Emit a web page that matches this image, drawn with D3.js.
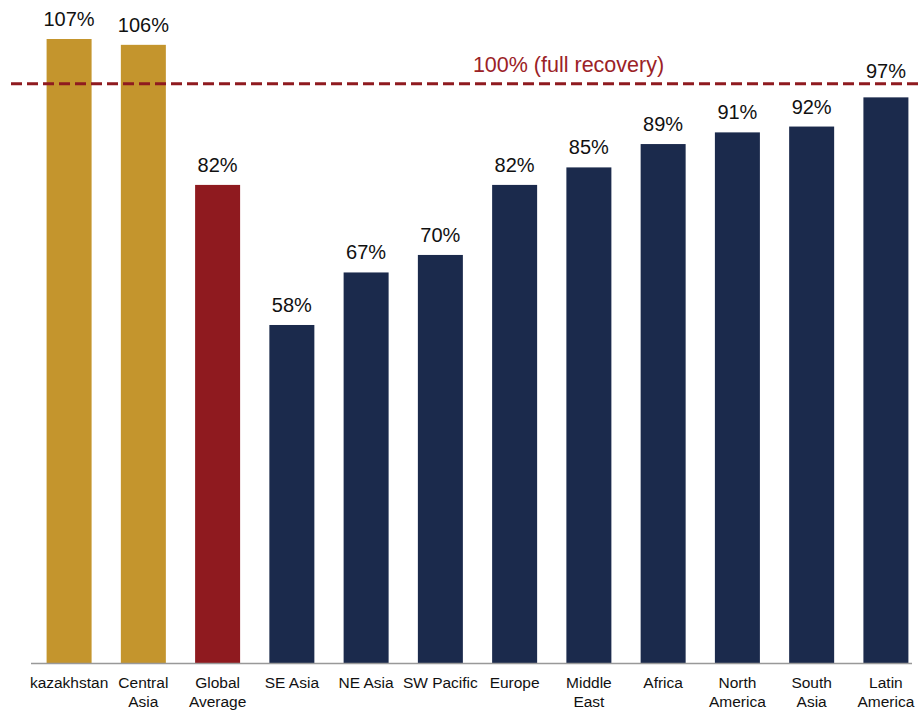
<!DOCTYPE html>
<html>
<head>
<meta charset="utf-8">
<script src="https://cdn.jsdelivr.net/npm/d3@7"></script>
<style>
  body { margin: 0; background: #fff; }
  text { font-family: "Liberation Sans", Arial, sans-serif; }
</style>
</head>
<body>
<script>
// datos
var regiones = ["kazakhstan", "Central Asia", "Global Average", "SE Asia", "NE Asia", "SW Pacific",
                "Europe", "Middle East", "Africa", "North America", "South Asia", "Latin America"];
// etiquetas del eje (en dos lineas cuando hace falta)
var etiquetas = [["kazakhstan"], ["Central", "Asia"], ["Global", "Average"], ["SE Asia"], ["NE Asia"], ["SW Pacific"],
                 ["Europe"], ["Middle", "East"], ["Africa"], ["North", "America"], ["South", "Asia"], ["Latin", "America"]];
var recuperacion = [107, 106, 82, 58, 67, 70, 82, 85, 89, 91, 92, 97];
var grupo = ["kz", "kz", "global", "region", "region", "region", "region", "region", "region", "region", "region", "region"];
var referencia = 100;
var textoReferencia = "100% (full recovery)";

var width = 918, height = 711;
var baseY = 663.5;

var svg = d3.select("body").append("svg")
    .attr("width", width)
    .attr("height", height);

var xScale = d3.scaleBand()
    .domain(regiones)
    .range([31, 924])
    .paddingInner(0.394)
    .paddingOuter(0.21);

// 107% llega a y=39
var yScale = d3.scaleLinear()
    .domain([0, 107])
    .range([baseY, 39]);

var colorScale = d3.scaleOrdinal()
    .domain(["kz", "global", "region"])
    .range(["#C4952D", "#8F1A1F", "#1B2A4C"]);

var datos = regiones.map(function(r, i) {
    return { region: r, valor: recuperacion[i], grupo: grupo[i], etiqueta: etiquetas[i] };
});

// linea de 100% (un poco por debajo del valor exacto, como en el original)
var yRef = yScale(referencia) + 4;

// barras
svg.selectAll("rect.barra")
    .data(datos)
    .enter()
    .append("rect")
    .attr("class", "barra")
    .attr("x", d => xScale(d.region))
    .attr("y", d => yScale(d.valor))
    .attr("width", xScale.bandwidth())
    .attr("height", d => baseY - yScale(d.valor))
    .attr("fill", d => colorScale(d.grupo));

// valores encima; si chocan con la linea de referencia se suben por encima
svg.selectAll("text.valor")
    .data(datos)
    .enter()
    .append("text")
    .attr("class", "valor")
    .attr("x", d => xScale(d.region) + xScale.bandwidth() / 2)
    .attr("y", function(d) {
        var y = yScale(d.valor) - 13;
        if (d.valor < referencia && y - 16 < yRef + 2) y = yRef - 6;
        return y;
    })
    .attr("text-anchor", "middle")
    .attr("font-size", 20)
    .attr("fill", "#111")
    .text(d => d.valor + "%");

// linea base
svg.append("line")
    .attr("x1", 31).attr("x2", 912)
    .attr("y1", baseY).attr("y2", baseY)
    .attr("stroke", "#999")
    .attr("stroke-width", 1.5);

// etiquetas de categorias
var cat = svg.selectAll("text.cat")
    .data(datos)
    .enter()
    .append("text")
    .attr("class", "cat")
    .attr("x", d => xScale(d.region) + xScale.bandwidth() / 2)
    .attr("y", 688)
    .attr("text-anchor", "middle")
    .attr("font-size", 15.5)
    .attr("fill", "#111");

cat.selectAll("tspan")
    .data(d => d.etiqueta)
    .enter()
    .append("tspan")
    .attr("x", function() { return d3.select(this.parentNode).attr("x"); })
    .attr("dy", (d, i) => i === 0 ? 0 : 19)
    .text(d => d);

svg.append("line")
    .attr("x1", 11).attr("x2", 918)
    .attr("y1", yRef).attr("y2", yRef)
    .attr("stroke", "#8F1A1F")
    .attr("stroke-width", 3)
    .attr("stroke-dasharray", "11,5");

svg.append("text")
    .attr("x", 568.5)
    .attr("y", 72)
    .attr("text-anchor", "middle")
    .attr("font-size", 21.5)
    .attr("fill", "#9B2226")
    .text(textoReferencia);
</script>
</body>
</html>
